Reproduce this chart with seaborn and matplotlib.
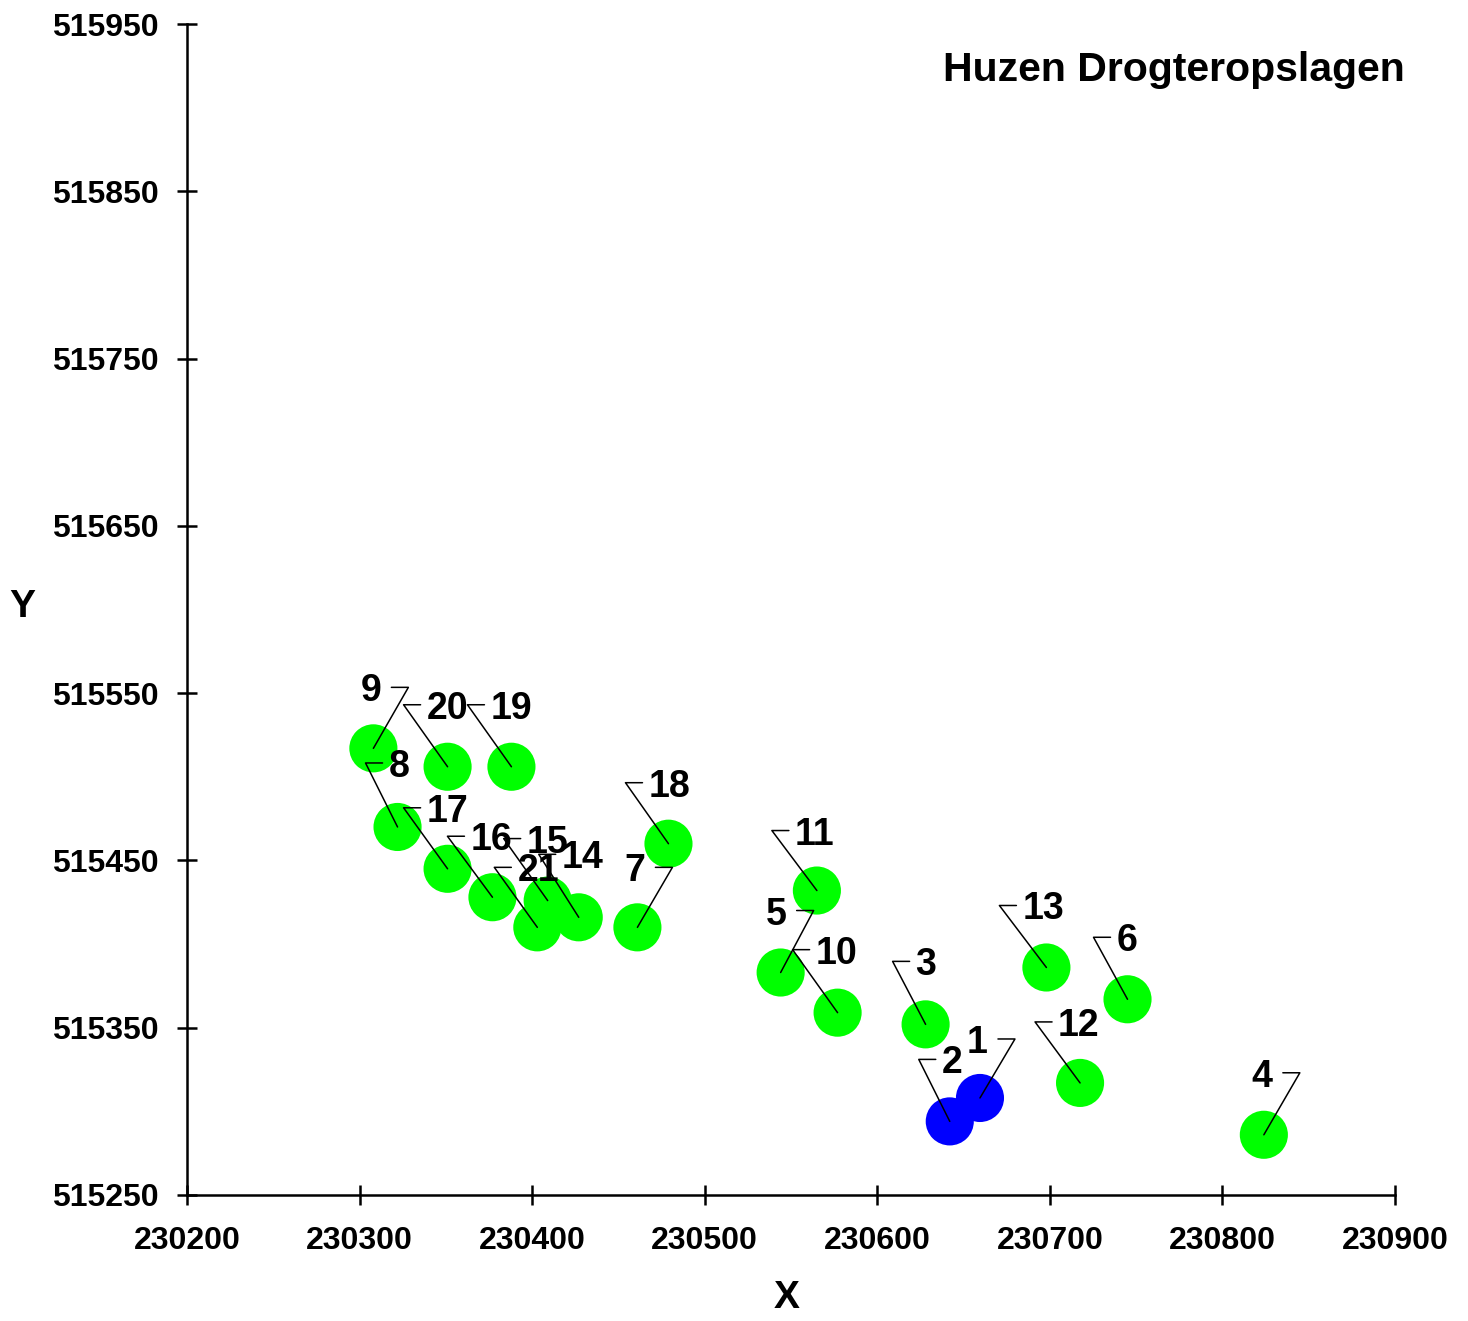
import numpy as np
import pandas as pd
import matplotlib
matplotlib.use('Agg')
import matplotlib.pyplot as plt
import seaborn as sns
from matplotlib.lines import Line2D
from matplotlib import font_manager
from matplotlib.transforms import IdentityTransform

# Huzen drogteropslagen - locaties (RD coordinaten)
point_ids = [str(i) for i in range(1, 22)]
x_vals = [230659.5, 230642, 230628, 230824, 230544, 230745, 230461, 230322, 230308, 230577,
          230565, 230717.5, 230698, 230427, 230409, 230377, 230351, 230479, 230388, 230351, 230403]
y_vals = [515308, 515294, 515352, 515286, 515383, 515367, 515410, 515470, 515517, 515359,
          515432, 515317, 515386, 515416, 515426, 515428, 515445, 515460, 515506, 515506, 515410]
groep = ['blauw', 'blauw'] + ['groen'] * 19

x_ticks = [230200, 230300, 230400, 230500, 230600, 230700, 230800, 230900]
y_ticks = [515250, 515350, 515450, 515550, 515650, 515750, 515850, 515950]

# label offsets in pixels (elbow of the leader, relative to the point, screen y down)
label_dx = [35, -31, -33, 36, 33, -34, 35, -32, 35, -45, -45, -45, -47, -40, -44, -45, -44, -43, -44, -44, -43]
label_dy = [-59, -62, -63, -62, -62, -62, -60, -64, -61, -63, -60, -61, -62, -63, -62, -61, -61, -61, -62, -62, -60]

df = pd.DataFrame({'X': x_vals, 'Y': y_vals, 'groep': groep, 'id': point_ids})

sns.set_style('white')
names = {f.name for f in font_manager.fontManager.ttflist}
narrow = 'Liberation Sans Narrow' if 'Liberation Sans Narrow' in names else 'Liberation Sans'
plt.rcParams['font.family'] = ['Liberation Sans', 'DejaVu Sans']
plt.rcParams['text.color'] = 'black'

fig = plt.figure(figsize=(14.68, 13.21), dpi=100)
ax = fig.add_axes([187 / 1468, 126 / 1321, 1208 / 1468, 1171 / 1321])

sns.scatterplot(data=df, x='X', y='Y', hue='groep',
                palette={'groen': '#00ff00', 'blauw': '#0000ff'},
                s=1200, linewidth=0, legend=False, ax=ax, zorder=2)

ax.set_xlim(x_ticks[0], x_ticks[-1])
ax.set_ylim(y_ticks[0], y_ticks[-1])
ax.set_xticks(x_ticks)
ax.set_yticks(y_ticks)
tick_size = 25 if narrow != 'Liberation Sans' else 23
ax.set_xticklabels([str(t) for t in x_ticks], fontfamily=narrow, fontweight='bold', fontsize=tick_size)
ax.set_yticklabels([str(t) for t in y_ticks], fontfamily=narrow, fontweight='bold', fontsize=tick_size)
ax.tick_params(bottom=True, left=True, direction='inout', length=14, width=1.8,
               color='black', labelcolor='black')
ax.tick_params(axis='x', pad=15)
ax.tick_params(axis='y', pad=13.5)
for s in ['top', 'right']:
    ax.spines[s].set_visible(False)
for s in ['left', 'bottom']:
    ax.spines[s].set_linewidth(1.8)
    ax.spines[s].set_color('black')

ax.set_xlabel('')
ax.set_ylabel('')
fig.text(787 / 1468, 1 - 1298 / 1321, 'X', ha='center', va='center', fontsize=28, fontweight='bold')
fig.text(22 / 1468, 1 - 607 / 1321, 'Y', ha='center', va='center', fontsize=28, fontweight='bold')
fig.text(1405 / 1468, 1 - 70 / 1321, 'Huzen Drogteropslagen', ha='right', va='center',
         fontsize=29.5, fontweight='bold')

# leaders and labels, drawn in screen pixels
pts = ax.transData.transform(np.column_stack([x_vals, y_vals]))
for (px, py), lab, dx, dy in zip(pts, point_ids, label_dx, label_dy):
    ex, ey = px + dx, py - dy
    hdir = -1 if dx > 0 else 1
    hx = ex + hdir * 17
    fig.add_artist(Line2D([px, ex, hx], [py, ey, ey], transform=IdentityTransform(),
                          color='black', lw=1.1, zorder=5))
    gap = 6 if hdir > 0 else 10
    fig.text(hx + hdir * gap, ey, lab, transform=IdentityTransform(),
             ha='left' if hdir > 0 else 'right', va='center_baseline',
             fontsize=27, fontweight='bold', zorder=6)

fig.savefig('out.png', dpi=100)
